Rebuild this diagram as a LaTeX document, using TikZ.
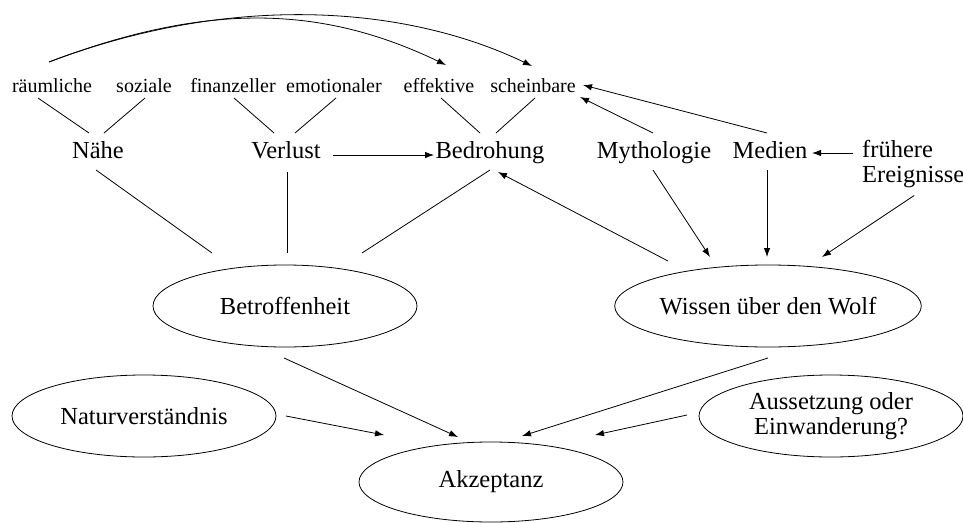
\documentclass[tikz,border=0pt]{standalone}
\usepackage{fontspec}
\setmainfont{Liberation Serif}
\usetikzlibrary{arrows.meta,shapes.geometric}
\tikzset{
  lbl/.style={inner sep=0pt, font=\fontsize{24.5}{25.5}\selectfont},
  sml/.style={inner sep=0pt, font=\fontsize{20}{24}\selectfont},
  ell/.style={ellipse, draw, line width=0.8pt, minimum width=264pt, minimum height=82pt, inner sep=0pt, align=center, font=\fontsize{24.5}{25.5}\selectfont},
  ln/.style={line width=0.8pt},
  arr/.style={line width=0.8pt, -{Latex[length=9pt,width=6.5pt]}}
}
\begin{document}
\begin{tikzpicture}[x=1pt,y=-1pt]
\useasboundingbox (0,0) rectangle (963,522);
% top labels
\node[sml, anchor=base] (raeum) at (52,92) {räumliche};
\node[sml, anchor=base] (sozi) at (144,92) {soziale};
\node[sml, anchor=base] (fin) at (233,92) {finanzeller};
\node[sml, anchor=base] (emo) at (334,92) {emotionaler};
\node[sml, anchor=base] (eff) at (439,92) {effektive};
\node[sml, anchor=base] (schein) at (533,92) {scheinbare};
% second row
\node[lbl, anchor=base] (naehe) at (98,158) {Nähe};
\node[lbl, anchor=base] (verl) at (286,158) {Verlust};
\node[lbl, anchor=base] (bedr) at (490,158) {Bedrohung};
\node[lbl, anchor=base] (myth) at (654,158) {Mythologie};
\node[lbl, anchor=base] (med) at (770,158) {Medien};
\node[lbl, anchor=north west, align=left] (frueh) at (862,140) {frühere\\Ereignisse};
% ellipses
\node[ell] (betr) at (285,306) {Betroffenheit};
\node[ell] (wiss) at (768,306) {Wissen über den Wolf};
\node[ell] (natur) at (144,416) {Naturverständnis};
\node[ell] (auss) at (831,416) {Aussetzung oder\\Einwanderung?};
\node[ell, minimum height=80pt] (akz) at (491,482) {Akzeptanz};
% curves
\draw[arr] ([shift={(-3,-30)}]raeum.base) .. controls (207,2) and (321,5) .. ([shift={(7,-27)}]eff.base);
\draw[arr] ([shift={(-3,-30)}]raeum.base) .. controls (234,-8) and (407,6) .. ([shift={(-1,-26)}]schein.base);
% top label lines
\draw[ln] ([shift={(-14,6)}]raeum.base) -- ([shift={(-9,-25)}]naehe.base);
\draw[ln] ([shift={(1,6)}]sozi.base) -- ([shift={(6,-25)}]naehe.base);
\draw[ln] ([shift={(1,6)}]fin.base) -- ([shift={(-12,-25)}]verl.base);
\draw[ln] ([shift={(2,6)}]emo.base) -- ([shift={(9,-25)}]verl.base);
\draw[ln] ([shift={(2,6)}]eff.base) -- ([shift={(-10,-25)}]bedr.base);
\draw[ln] ([shift={(2,6)}]schein.base) -- ([shift={(6,-25)}]bedr.base);
% right-top arrows
\draw[arr] ([shift={(-1,-25)}]myth.base) -- ([shift={(47,5)}]schein.base);
\draw[arr] ([shift={(-3,-25)}]med.base) -- ([shift={(50,-7)}]schein.base);
\draw[arr] ([shift={(-9,13)}]frueh.north west) -- ([shift={(42,-5)}]med.base);
\draw[arr] ([shift={(47,-3)}]verl.base) -- ([shift={(-56,-3)}]bedr.base);
% to Betroffenheit
\draw[ln] ([shift={(-2,12)}]naehe.base) -- ([shift={(-73,-53)}]betr.center);
\draw[ln] ([shift={(1,14)}]verl.base) -- ([shift={(2,-53)}]betr.center);
\draw[ln] ([shift={(0,12)}]bedr.base) -- ([shift={(77,-53)}]betr.center);
% Wissen
\draw[arr] ([shift={(-100,-45)}]wiss.center) -- ([shift={(8,14)}]bedr.base);
\draw[arr] ([shift={(-1,12)}]myth.base) -- ([shift={(-58,-49)}]wiss.center);
\draw[arr] ([shift={(-3,12)}]med.base) -- ([shift={(-1,-49)}]wiss.center);
\draw[arr] ([shift={(1,7)}]frueh.south) -- ([shift={(54,-49)}]wiss.center);
% to Akzeptanz
\draw[arr] ([shift={(142,0)}]natur.center) -- ([shift={(-107,-47)}]akz.center);
\draw[arr] ([shift={(-1,52)}]betr.center) -- ([shift={(-33,-45)}]akz.center);
\draw[arr] ([shift={(0,52)}]wiss.center) -- ([shift={(31,-46)}]akz.center);
\draw[arr] ([shift={(-144,-1)}]auss.center) -- ([shift={(104,-47)}]akz.center);
\end{tikzpicture}
\end{document}
